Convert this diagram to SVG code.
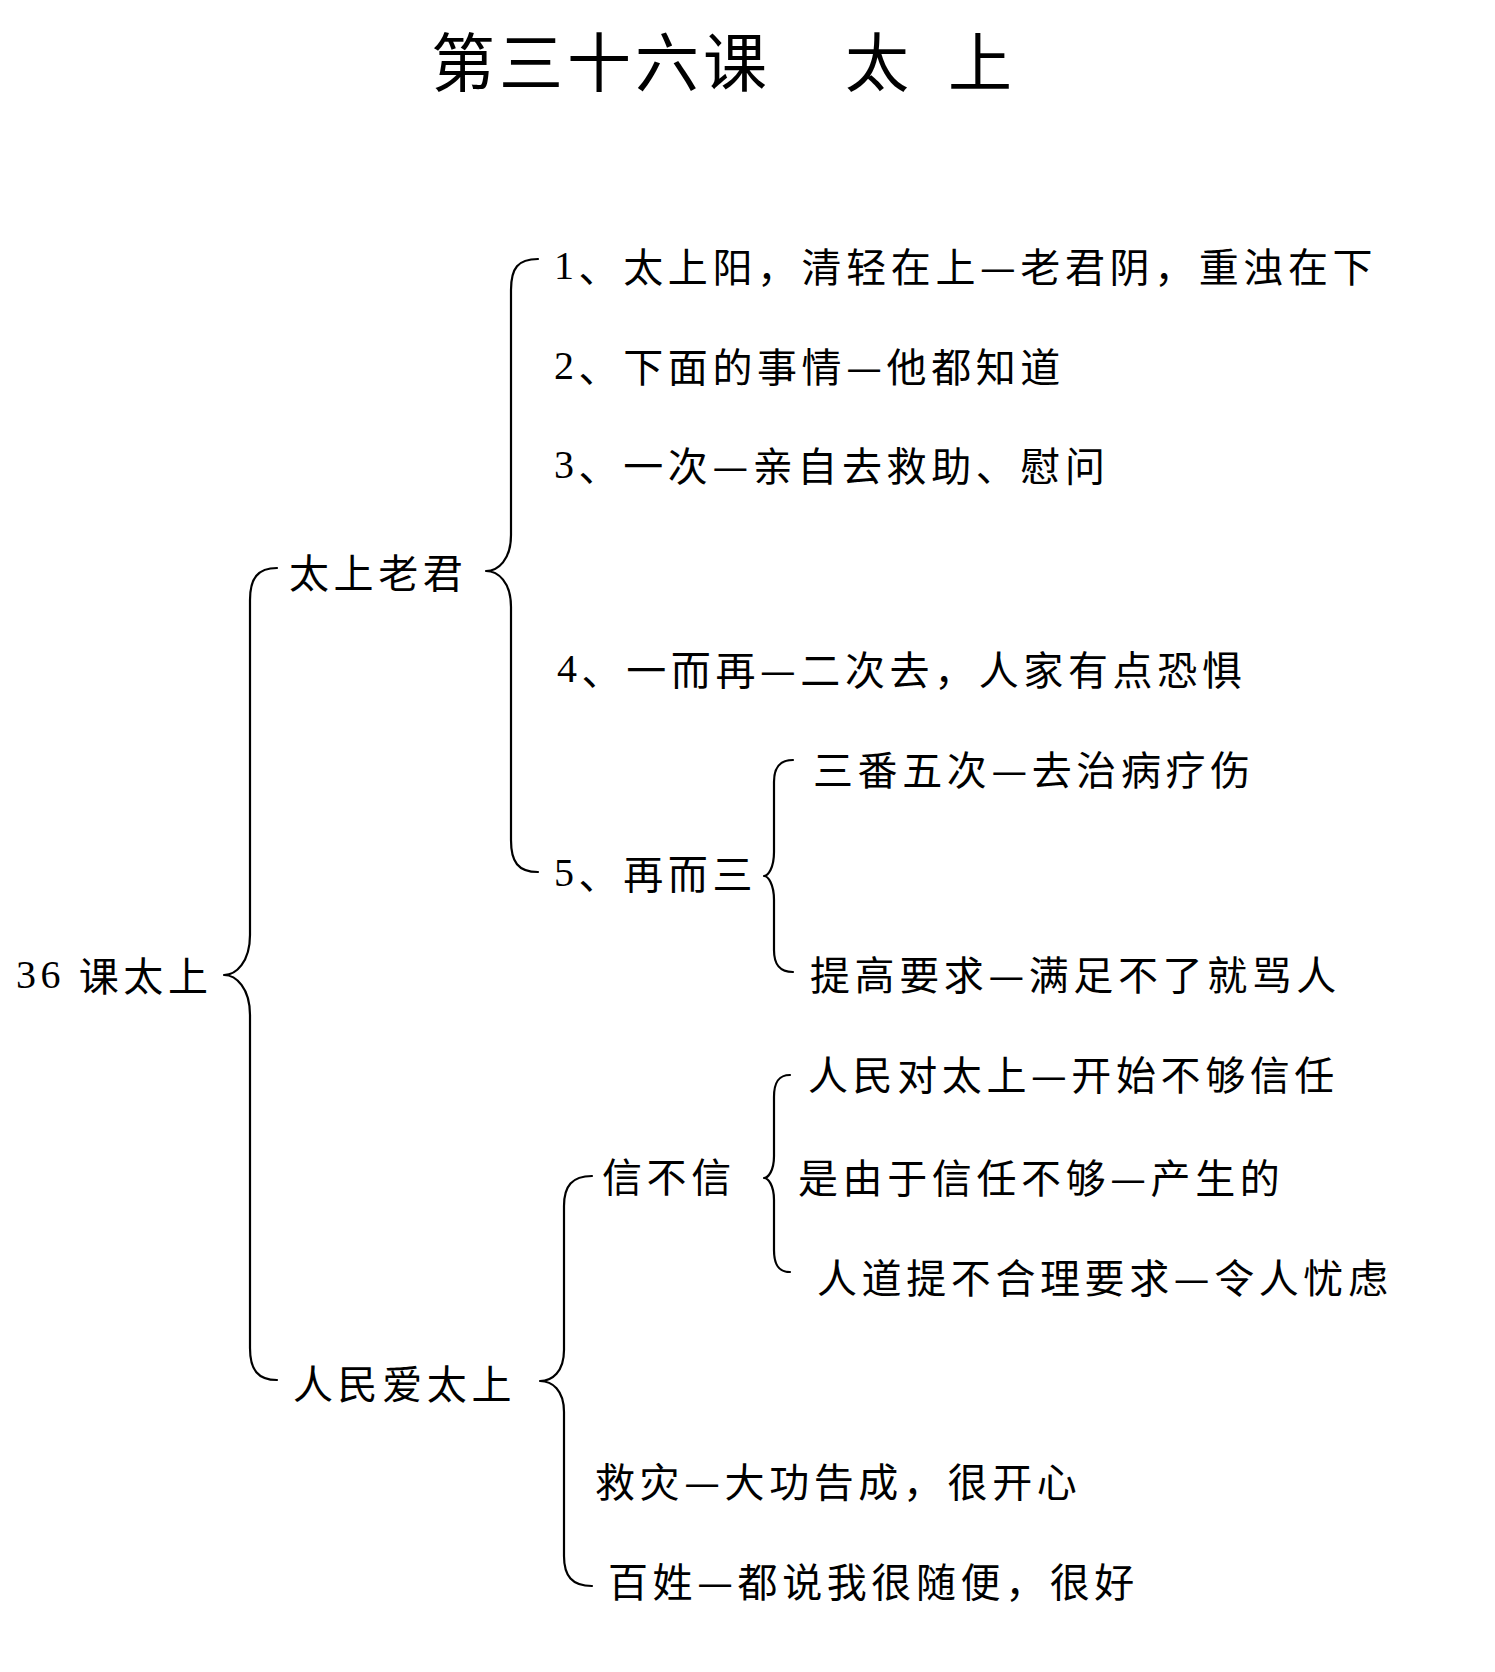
<svg xmlns="http://www.w3.org/2000/svg" width="1495" height="1672" viewBox="0 0 1495 1672">
<style>
.t{font-family:"Noto Sans CJK SC","Noto Sans CJK TC",sans-serif;font-size:40px;letter-spacing:4.6px;fill:#000;dominant-baseline:central}
.title{font-family:"Noto Sans CJK SC","Noto Sans CJK TC",sans-serif;font-size:64px;letter-spacing:4px;fill:#000;dominant-baseline:central}
.d{font-family:"Liberation Serif",serif}
.br{fill:none;stroke:#000;stroke-width:2.2;stroke-linecap:round;stroke-linejoin:round}
</style>
<rect width="1495" height="1672" fill="#fff"/>
<g id="title">
<text class="title" x="431" y="58">第三十六课</text>
<text class="title" x="845" y="58">太</text>
<text class="title" x="948" y="58">上</text>
</g>
<g id="connectors">
<path class="br" d="M277,568 C258,568 250,578 250,600 L250,935 C250,962 236,975 224,975 C236,975 250,988 250,1015 L250,1348 C250,1370 258,1380 277,1380"/>
<path class="br" d="M538,259 C518,259 511,268 511,290 L511,535 C511,560 498,571 486,571 C498,571 511,582 511,607 L511,840 C511,862 518,872 538,872"/>
<path class="br" d="M793,760 C779,760 774,768 774,782 L774,852 C774,868 768,876 764,876 C768,876 774,884 774,900 L774,950 C774,964 779,972 793,972"/>
<path class="br" d="M790,1075 C778,1075 774,1083 774,1097 L774,1156 C774,1171 768,1178 764,1178 C768,1178 774,1185 774,1200 L774,1250 C774,1264 778,1272 790,1272"/>
<path class="br" d="M592,1176 C572,1176 564,1186 564,1206 L564,1350 C564,1372 552,1381 540,1381 C552,1381 564,1390 564,1412 L564,1556 C564,1576 572,1586 592,1586"/>
</g>
<g id="root"><text class="t" x="16" y="974"><tspan class="d">36</tspan> 课太上</text></g>
<g id="n-taishanglaojun"><text class="t" x="289" y="571">太上老君</text></g>
<g id="n-item1"><text class="t" x="554" y="265"><tspan class="d">1</tspan>、太上阳，清轻在上—老君阴，重浊在下</text></g>
<g id="n-item2"><text class="t" x="554" y="365"><tspan class="d">2</tspan>、下面的事情—他都知道</text></g>
<g id="n-item3"><text class="t" x="554" y="464"><tspan class="d">3</tspan>、一次—亲自去救助、慰问</text></g>
<g id="n-item4"><text class="t" x="557" y="668"><tspan class="d">4</tspan>、一而再—二次去，人家有点恐惧</text></g>
<g id="n-item5"><text class="t" x="554" y="872"><tspan class="d">5</tspan>、再而三</text></g>
<g id="n-item5a"><text class="t" x="813" y="768">三番五次—去治病疗伤</text></g>
<g id="n-item5b"><text class="t" x="810" y="973">提高要求—满足不了就骂人</text></g>
<g id="n-renminaitaishang"><text class="t" x="293" y="1382">人民爱太上</text></g>
<g id="n-xinbuxin"><text class="t" x="602" y="1175">信不信</text></g>
<g id="n-xin1"><text class="t" x="808" y="1073">人民对太上—开始不够信任</text></g>
<g id="n-xin2"><text class="t" x="798" y="1176">是由于信任不够—产生的</text></g>
<g id="n-xin3"><text class="t" x="817" y="1276">人道提不合理要求—令人忧虑</text></g>
<g id="n-jiuzai"><text class="t" x="595" y="1480">救灾—大功告成，很开心</text></g>
<g id="n-baixing"><text class="t" x="608" y="1580">百姓—都说我很随便，很好</text></g>
</svg>
